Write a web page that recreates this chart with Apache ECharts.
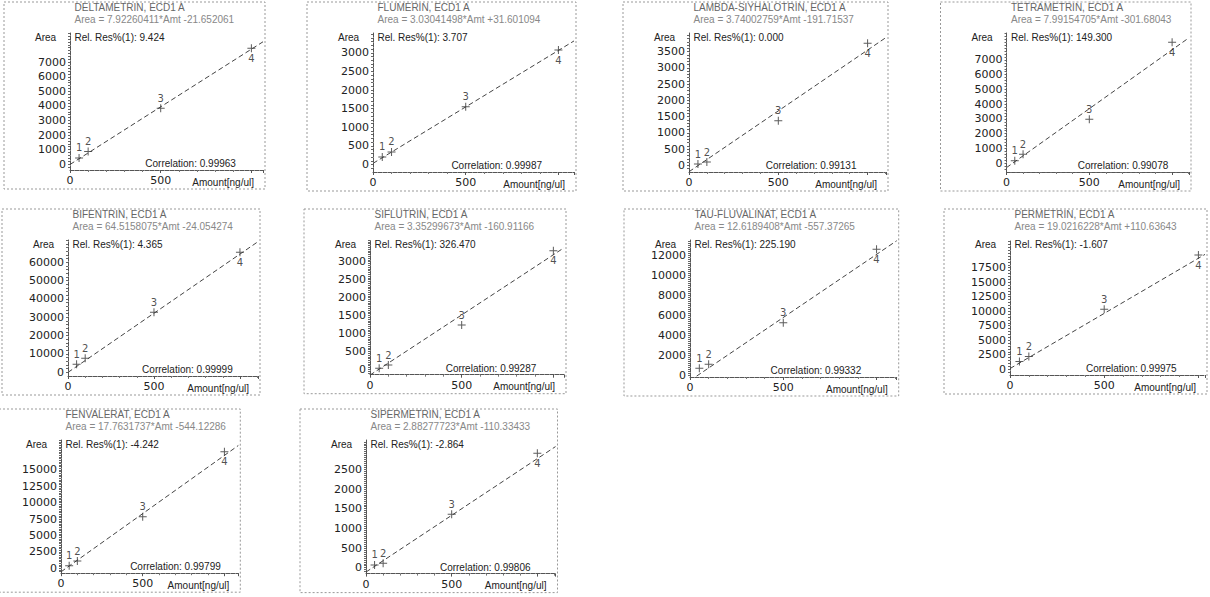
<!DOCTYPE html>
<html>
<head>
<meta charset="utf-8">
<title>Calibration curves, ECD1 A</title>
<script src="https://cdn.jsdelivr.net/npm/echarts@6/dist/echarts.min.js"></script>
<style>
  html, body { margin: 0; padding: 0; background: #fff; }
  #main { width: 1210px; height: 597px; }
</style>
</head>
<body>
<div id="main"></div>
<script>
// calibration levels, same for every compound
var amounts = [50, 100, 500, 1000];
var levelNames = ["1", "2", "3", "4"];

var compounds = [
  "DELTAMETRIN", "FLUMERIN", "LAMBDA-SIYHALOTRIN", "TETRAMETRIN",
  "BIFENTRIN", "SIFLUTRIN", "TAU-FLUVALINAT", "PERMETRIN",
  "FENVALERAT", "SIPERMETRIN"
];
var equations = [
  "Area = 7.92260411*Amt -21.652061",
  "Area = 3.03041498*Amt +31.601094",
  "Area = 3.74002759*Amt -191.71537",
  "Area = 7.99154705*Amt -301.68043",
  "Area = 64.5158075*Amt -24.054274",
  "Area = 3.35299673*Amt -160.91166",
  "Area = 12.6189408*Amt -557.37265",
  "Area = 19.0216228*Amt +110.63643",
  "Area = 17.7631737*Amt -544.12286",
  "Area = 2.88277723*Amt -110.33433"
];
var relRes = ["9.424", "3.707", "0.000", "149.300", "4.365", "326.470", "225.190", "-1.607", "-4.242", "-2.864"];
var correlations = ["0.99963", "0.99987", "0.99131", "0.99078", "0.99999", "0.99287", "0.99332", "0.99975", "0.99799", "0.99806"];

// measured areas, levels 1..4
var areaDeltametrin = [430, 865, 3840, 7960];
var areaFlumerin = [204, 339, 1548, 3072];
var areaLambda = [43, 104, 1372, 3757];
var areaTetrametrin = [156, 610, 2981, 8198];
var areaBifentrin = [4360, 7640, 32730, 65470];
var areaSiflutrin = [28, 120, 1235, 3305];
var areaTau = [670, 1070, 5230, 12570];
var areaPermetrin = [1310, 2170, 10340, 19690];
var areaFenvalerat = [400, 1110, 7870, 17780];
var areaSipermetrin = [69, 112, 1357, 2908];
var areas = [areaDeltametrin, areaFlumerin, areaLambda, areaTetrametrin, areaBifentrin,
  areaSiflutrin, areaTau, areaPermetrin, areaFenvalerat, areaSipermetrin];

// right end of each amount axis
var amountMax = [1064, 1084, 1103, 1102, 1105, 1058, 1108, 1035, 1085, 1106];
// fitted line: area at amount 0 and at amountMax
var fitLeft = [-21.7, 31.6, -191.7, -301.7, -24.1, -160.9, -557.4, 110.6, -544.1, -110.3];
var fitRight = [8408, 3317, 3934, 8505, 71266, 3387, 13424, 19798, 18729, 3078];

// y tick labels: step between labels and highest labelled value
var yLabelStep = [1000, 500, 500, 1000, 10000, 500, 2000, 2500, 2500, 500];
var yLabelTop = [7000, 3000, 3500, 7000, 60000, 3000, 12000, 17500, 15000, 2500];

// layout: plot box [left, top, width, height] and y range [min, max, tick step]
var boxes = [
  [70, 33, 193, 137], [373, 33, 201, 139], [689, 33, 197, 139], [1006.5, 33, 182.5, 139],
  [68, 240, 190, 136], [370, 240, 194, 134.7], [690, 240, 206.7, 137], [1010, 240, 195, 135],
  [61, 440, 177.3, 133.2], [366, 440, 189.5, 133.6]
];
var yRanges = [
  [-400, 9012, 200], [-200, 3530, 100], [-200, 4073, 100], [-600, 8828, 200],
  [-2000, 72180, 2000], [-150, 3604, 50], [-200, 13500, 200], [-1000, 22280, 500],
  [-750, 19570, 250], [-150, 3246, 50]
];

var labelPos = ["top", "top", "top", "bottom"];
var plus = "path://M0,3.5H8V4.5H0Z M3.5,0H4.5V8H3.5Z";
var txtFont = "Liberation Sans, Arial, sans-serif";
var numFont = "DejaVu Sans, sans-serif";

var grids = [], xAxes = [], yAxes = [], series = [], texts = [];

function addText(x, y, str, color, align) {
  texts.push({
    type: "text", x: x, y: y, silent: true,
    style: { text: str, fill: color, font: "10px " + txtFont, align: align || "left", verticalAlign: "middle" }
  });
}

compounds.forEach(function (name, i) {
  var b = boxes[i], yr = yRanges[i];
  var step = yLabelStep[i], top = yLabelTop[i];
  grids.push({ left: b[0], top: b[1], width: b[2], height: b[3], containLabel: false });

  xAxes.push({
    gridIndex: i, type: "value", min: 0, max: amountMax[i], interval: 500,
    axisLine: { onZero: false, lineStyle: { color: "#555", width: 1, type: [4, 1] } },
    axisTick: { length: 3, lineStyle: { color: "#555" } },
    minorTick: { show: true, splitNumber: 5, length: 2, lineStyle: { color: "#777" } },
    splitLine: { show: false },
    axisLabel: {
      margin: 5, fontFamily: numFont, fontSize: 11, color: "#222",
      showMinLabel: true, showMaxLabel: false,
      formatter: function (v) { return (v === 0 || v === 500) ? String(v) : ""; }
    }
  });

  yAxes.push({
    gridIndex: i, type: "value", min: yr[0], max: yr[1], interval: yr[2],
    axisLine: { onZero: false, lineStyle: { color: "#555", width: 1, type: [4, 1] } },
    axisTick: { length: 2, lineStyle: { color: "#666" } },
    splitLine: { show: false },
    axisLabel: {
      margin: 4, fontFamily: numFont, fontSize: 11, color: "#222",
      showMinLabel: false, showMaxLabel: false,
      formatter: function (v) {
        var r = Math.abs(v % step);
        return (v >= 0 && v <= top && (r < 1e-6 || step - r < 1e-6)) ? String(v) : "";
      }
    }
  });

  series.push({
    type: "line", xAxisIndex: i, yAxisIndex: i, silent: true,
    data: [[0, fitLeft[i]], [amountMax[i], fitRight[i]]],
    showSymbol: false, clip: true, z: 2,
    lineStyle: { color: "#444", width: 1, type: [5, 3] }
  });

  series.push({
    type: "scatter", xAxisIndex: i, yAxisIndex: i, silent: true, z: 3,
    symbol: plus, symbolSize: 8,
    itemStyle: { color: "#333" },
    data: amounts.map(function (a, k) {
      return { value: [a, areas[i][k]], label: { position: labelPos[k] } };
    }),
    label: {
      show: true, distance: 1, fontFamily: numFont, fontSize: 10, color: "#222",
      formatter: function (p) { return levelNames[p.dataIndex]; }
    }
  });

  // panel frame
  texts.push({
    type: "rect", silent: true, z: -1,
    shape: { x: b[0] - 66, y: b[1] - 31, width: b[2] + 68, height: b[3] + 50 },
    style: { fill: "none", stroke: "#999", lineWidth: 1, lineDash: [2, 2] }
  });

  addText(b[0] + 4.5, b[1] - 26, name + ", ECD1 A", "#666");
  addText(b[0] + 4.5, b[1] - 13.5, equations[i], "#888");
  addText(b[0] + 4.5, b[1] + 4, "Rel. Res%(1): " + relRes[i], "#222");
  addText(b[0] - 35, b[1] + 4, "Area", "#222");
  addText(b[0] + 0.39 * b[2], b[1] + b[3] - 6.5, "Correlation: " + correlations[i], "#222");
  addText(b[0] + b[2] - 9, b[1] + b[3] + 12, "Amount[ng/ul]", "#222", "right");
});

var chart = echarts.init(document.getElementById("main"), null, { renderer: "svg" });
chart.setOption({
  animation: false,
  backgroundColor: "#fff",
  grid: grids,
  xAxis: xAxes,
  yAxis: yAxes,
  series: series,
  graphic: texts
});
</script>
</body>
</html>
